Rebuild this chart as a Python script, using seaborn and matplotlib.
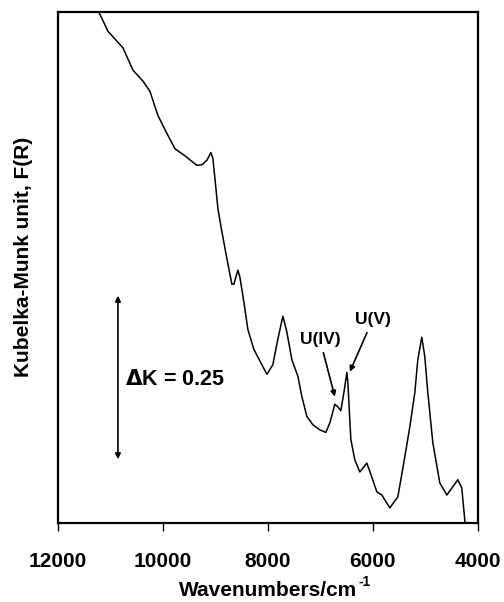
import numpy as np
import pandas as pd
import matplotlib
matplotlib.use("Agg")
import matplotlib.pyplot as plt
import seaborn as sns

# spectrum (wavenumber in cm-1, F(R))
wavenumber = [11295, 11238, 11048, 10762, 10571, 10381, 10248, 10095, 9924, 9771,
              9581, 9352, 9257, 9162, 9086, 9048, 8990, 8952, 8876, 8781,
              8686, 8648, 8571, 8533, 8457, 8381, 8267, 8019, 7905, 7810,
              7714, 7638, 7543, 7429, 7352, 7257, 7143, 7010, 6895, 6819,
              6724, 6667, 6610, 6552, 6495, 6476, 6419, 6343, 6248, 6114,
              6019, 5924, 5829, 5676, 5524, 5390, 5295, 5200, 5143, 5067,
              5010, 4952, 4857, 4724, 4590, 4476, 4381, 4305, 4248, 4229]
kubelka = [0.814, 0.803, 0.770, 0.744, 0.709, 0.692, 0.676, 0.638, 0.610, 0.586,
           0.575, 0.560, 0.561, 0.568, 0.580, 0.571, 0.524, 0.492, 0.456, 0.414,
           0.374, 0.374, 0.396, 0.385, 0.346, 0.303, 0.272, 0.233, 0.248, 0.288,
           0.324, 0.299, 0.256, 0.230, 0.198, 0.167, 0.154, 0.146, 0.142, 0.157,
           0.186, 0.182, 0.176, 0.204, 0.236, 0.220, 0.131, 0.099, 0.080, 0.094,
           0.072, 0.049, 0.044, 0.024, 0.041, 0.104, 0.151, 0.204, 0.256, 0.291,
           0.261, 0.204, 0.126, 0.063, 0.044, 0.057, 0.068, 0.055, 0.005, -0.011]

x_ticks = [12000, 10000, 8000, 6000, 4000]

sns.set_style("white")
plt.rcParams['font.family'] = ['Liberation Sans', 'DejaVu Sans']
plt.rcParams['text.color'] = 'black'
plt.rcParams['axes.labelcolor'] = 'black'
plt.rcParams['xtick.color'] = 'black'

df = pd.DataFrame({'wn': wavenumber, 'fr': kubelka})

fig = plt.figure(figsize=(5.04, 6.02), dpi=100)
ax = fig.add_axes([0.115, 0.131, 0.833, 0.849])
sns.lineplot(data=df, x='wn', y='fr', color='black', lw=1.1, ax=ax, sort=False)

ax.set_xlim(12000, 4000)
ax.set_ylim(0, 0.80)
ax.set_xticks(x_ticks)
ax.set_xticklabels([str(t) for t in x_ticks], fontsize=15, fontweight='bold')
ax.set_yticks([])
ax.tick_params(axis='x', direction='out', length=6, width=1, bottom=True, pad=15)
for s in ax.spines.values():
    s.set_linewidth(1.6)
    s.set_color('black')

xl = ax.set_xlabel('Wavenumbers/cm', fontsize=15, fontweight='bold', labelpad=7)
# superscript -1 placed right after the x label
ax.annotate('-1', xy=(1, 1), xycoords=xl, xytext=(1, -6), textcoords='offset points',
            fontsize=10, fontweight='bold', ha='left', va='bottom')
ax.set_ylabel('Kubelka-Munk unit, F(R)', fontsize=15, fontweight='bold', labelpad=14)
ax.yaxis.set_label_coords(-0.06, 0.52)

# scale bar
ax.annotate('', xy=(10857, 0.356), xytext=(10857, 0.100),
            arrowprops=dict(arrowstyle='<|-|>', color='black', lw=1.2,
                            mutation_scale=8, shrinkA=0, shrinkB=0))
ax.text(10724, 0.225, '$\\mathbf{\\Delta}$K = 0.25', fontsize=15.5, fontweight='bold',
        ha='left', va='center')

# band labels
ax.annotate('U(IV)', xy=(6724, 0.198), xytext=(7010, 0.288), fontsize=12.5,
            fontweight='bold', ha='center', va='center',
            arrowprops=dict(arrowstyle='-|>', color='black', lw=1.2,
                            mutation_scale=8, shrinkA=2, shrinkB=0))
ax.annotate('U(V)', xy=(6438, 0.237), xytext=(6000, 0.319), fontsize=12.5,
            fontweight='bold', ha='center', va='center',
            arrowprops=dict(arrowstyle='-|>', color='black', lw=1.2,
                            mutation_scale=8, shrinkA=2, shrinkB=0))

fig.savefig('out.png', dpi=100)
